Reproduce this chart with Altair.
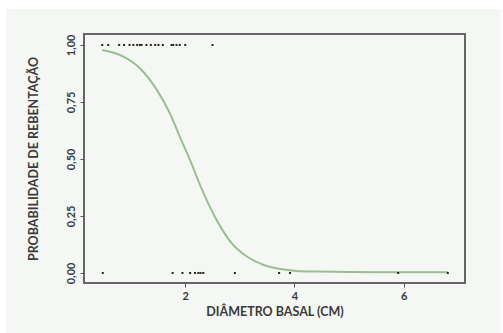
import altair as alt
import pandas as pd

# Observations: sprouted (1) and not sprouted (0), basal diameter in cm
diam_one = [0.48, 0.59, 0.79, 0.88, 0.98, 1.05, 1.12, 1.17, 1.20, 1.29, 1.37, 1.45,
            1.51, 1.59, 1.75, 1.78, 1.84, 1.90, 2.00, 2.50]
diam_zero = [0.49, 1.77, 1.95, 2.09, 2.18, 2.24, 2.28, 2.33, 2.91, 3.72, 3.92, 5.90, 6.81]

# Fitted curve
curve_x = [0.48, 0.87, 1.17, 1.48, 1.72, 1.90, 2.15, 2.21, 2.51, 2.82, 3.13, 3.43,
           3.74, 4.04, 4.47, 5.00, 6.00, 6.81]
curve_y = [0.978, 0.949, 0.898, 0.803, 0.700, 0.598, 0.459, 0.422, 0.262, 0.140,
           0.072, 0.036, 0.017, 0.009, 0.006, 0.004, 0.003, 0.003]

pts = pd.DataFrame({
    "d": diam_one + diam_zero,
    "p": [1.0] * len(diam_one) + [0.0] * len(diam_zero),
})
curve = pd.DataFrame({"d": curve_x, "p": curve_y})

W, H = 381, 249
FONT = "Lato"
PANEL = "#f5f7f4"

xs = alt.Scale(domain=[0.146, 7.125], nice=False, zero=False)
ys = alt.Scale(domain=[-0.044, 1.048], nice=False, zero=False)

xaxis = alt.Axis(values=[2, 4, 6], format="d", title="DIÂMETRO BASAL (CM)",
                 grid=False, domain=False, ticks=True, tickSize=4, tickColor="#555",
                 labelFont=FONT, labelFontSize=11, labelFontWeight="bold", labelColor="#3a3a3a",
                 labelPadding=3, titleFont=FONT, titleFontSize=12.5, titleFontWeight="bold",
                 titleColor="#3a3a3a", titlePadding=4, zindex=1)
yaxis = alt.Axis(values=[0, 0.25, 0.5, 0.75, 1.0],
                 labelExpr="replace(format(datum.value, '.2f'), '.', ',')",
                 title="PROBABILIDADE DE REBENTAÇÃO",
                 grid=False, domain=False, ticks=True, tickSize=4, tickColor="#555",
                 labelFont=FONT, labelFontSize=11, labelFontWeight="bold", labelColor="#3a3a3a",
                 labelAngle=270, labelAlign="center", labelBaseline="bottom", labelPadding=4,
                 titleFont=FONT, titleFontSize=12.5, titleFontWeight="bold", titleColor="#3a3a3a",
                 titlePadding=25, zindex=1)

panel = alt.Chart(pts).mark_rect(fill=PANEL).encode(
    x=alt.value(-78), x2=alt.value(417), y=alt.value(-25), y2=alt.value(299)
)

line = alt.Chart(curve).mark_line(color="#9cbc93", strokeWidth=2, interpolate="monotone").encode(
    x=alt.X("d:Q", scale=xs, axis=xaxis),
    y=alt.Y("p:Q", scale=ys, axis=yaxis),
)

dots = alt.Chart(pts).mark_square(size=4, color="#222", opacity=1).encode(
    x=alt.X("d:Q", scale=xs),
    y=alt.Y("p:Q", scale=ys),
)

frame = alt.Chart(pts).mark_rect(fill=None, stroke="#666", strokeWidth=1.5).encode(
    x=alt.value(0), x2=alt.value(W), y=alt.value(0), y2=alt.value(H)
)

chart = alt.layer(panel, line, dots, frame).properties(
    width=W, height=H,
    autosize=alt.AutoSizeParams(type="none"),
    padding={"left": 84, "top": 34, "right": 38, "bottom": 50},
    background="white",
).configure_view(stroke=None)

chart.save("out.html", embed_options={"renderer": "svg", "actions": False})
